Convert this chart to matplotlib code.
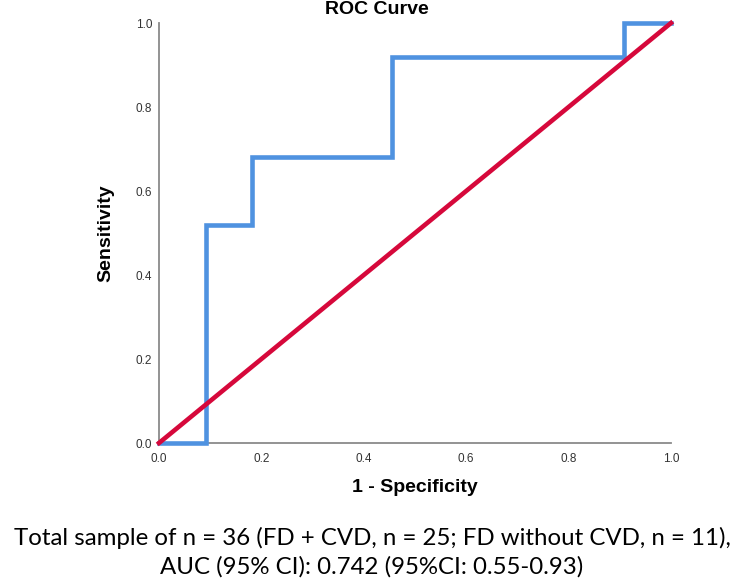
import matplotlib
matplotlib.use("Agg")
import matplotlib.pyplot as plt

# ROC data (1 - specificity, sensitivity)
fpr = [0.0, 1/11, 1/11, 2/11, 2/11, 5/11, 5/11, 10/11, 10/11, 1.0]
tpr = [0.0, 0.0, 0.52, 0.52, 0.68, 0.68, 0.92, 0.92, 1.0, 1.0]
ref_x = [0.0, 1.0]
ref_y = [0.0, 1.0]
ticks = [0.0, 0.2, 0.4, 0.6, 0.8, 1.0]
tick_labels = ["0.0", "0.2", "0.4", "0.6", "0.8", "1.0"]
title = "ROC Curve"
xlabel = "1 - Specificity"
ylabel = "Sensitivity"
caption = ["Total sample of n = 36 (FD + CVD, n = 25; FD without CVD, n = 11),",
           "AUC (95% CI): 0.742 (95%CI: 0.55-0.93)"]

fig = plt.figure(figsize=(7.44, 5.85), dpi=100)
ax = fig.add_axes([159/744, 1-443/585, (671-159)/744, (443-23)/585])

ax.plot(fpr, tpr, color="#4f92e0", lw=3.3, solid_joinstyle="miter", zorder=3, clip_on=False)
ax.plot(ref_x, ref_y, color="#d6083b", lw=3.3, zorder=4, clip_on=False)

ax.set_xlim(0, 1)
ax.set_ylim(0, 1)
ax.set_xticks(ticks)
ax.set_xticklabels(tick_labels)
ax.set_yticks(ticks)
ax.set_yticklabels(tick_labels)
ax.tick_params(axis="x", length=0, labelsize=8.5, colors="#333333", pad=7)
ax.tick_params(axis="y", length=0, labelsize=8.5, colors="#333333", pad=5)
for s in ["top", "right"]:
    ax.spines[s].set_visible(False)
for s in ["left", "bottom"]:
    ax.spines[s].set_color("#8a8a8a")
    ax.spines[s].set_linewidth(1.3)

ax.set_xlabel(xlabel, fontsize=14, fontweight="bold", labelpad=10, family="Liberation Sans")
ax.set_ylabel(ylabel, fontsize=14, fontweight="bold", labelpad=15, family="Liberation Sans")
for lab in ax.get_xticklabels() + ax.get_yticklabels():
    lab.set_family("Liberation Sans")

fig.text(377/744, 1-10/585, title, ha="center", va="center", fontsize=14,
         fontweight="bold", family="Liberation Sans")

t1 = fig.text(0.5, 1-538/585, caption[0], ha="center", va="center", fontsize=18, family="Lato")
t2 = fig.text(0.5, 1-567/585, caption[1], ha="center", va="center", fontsize=18, family="Lato")
fig.canvas.draw()
w = t1.get_window_extent().width
fs = 18 * 715 / w
t1.set_fontsize(fs)
t2.set_fontsize(fs)

fig.savefig("out.png", dpi=100)
